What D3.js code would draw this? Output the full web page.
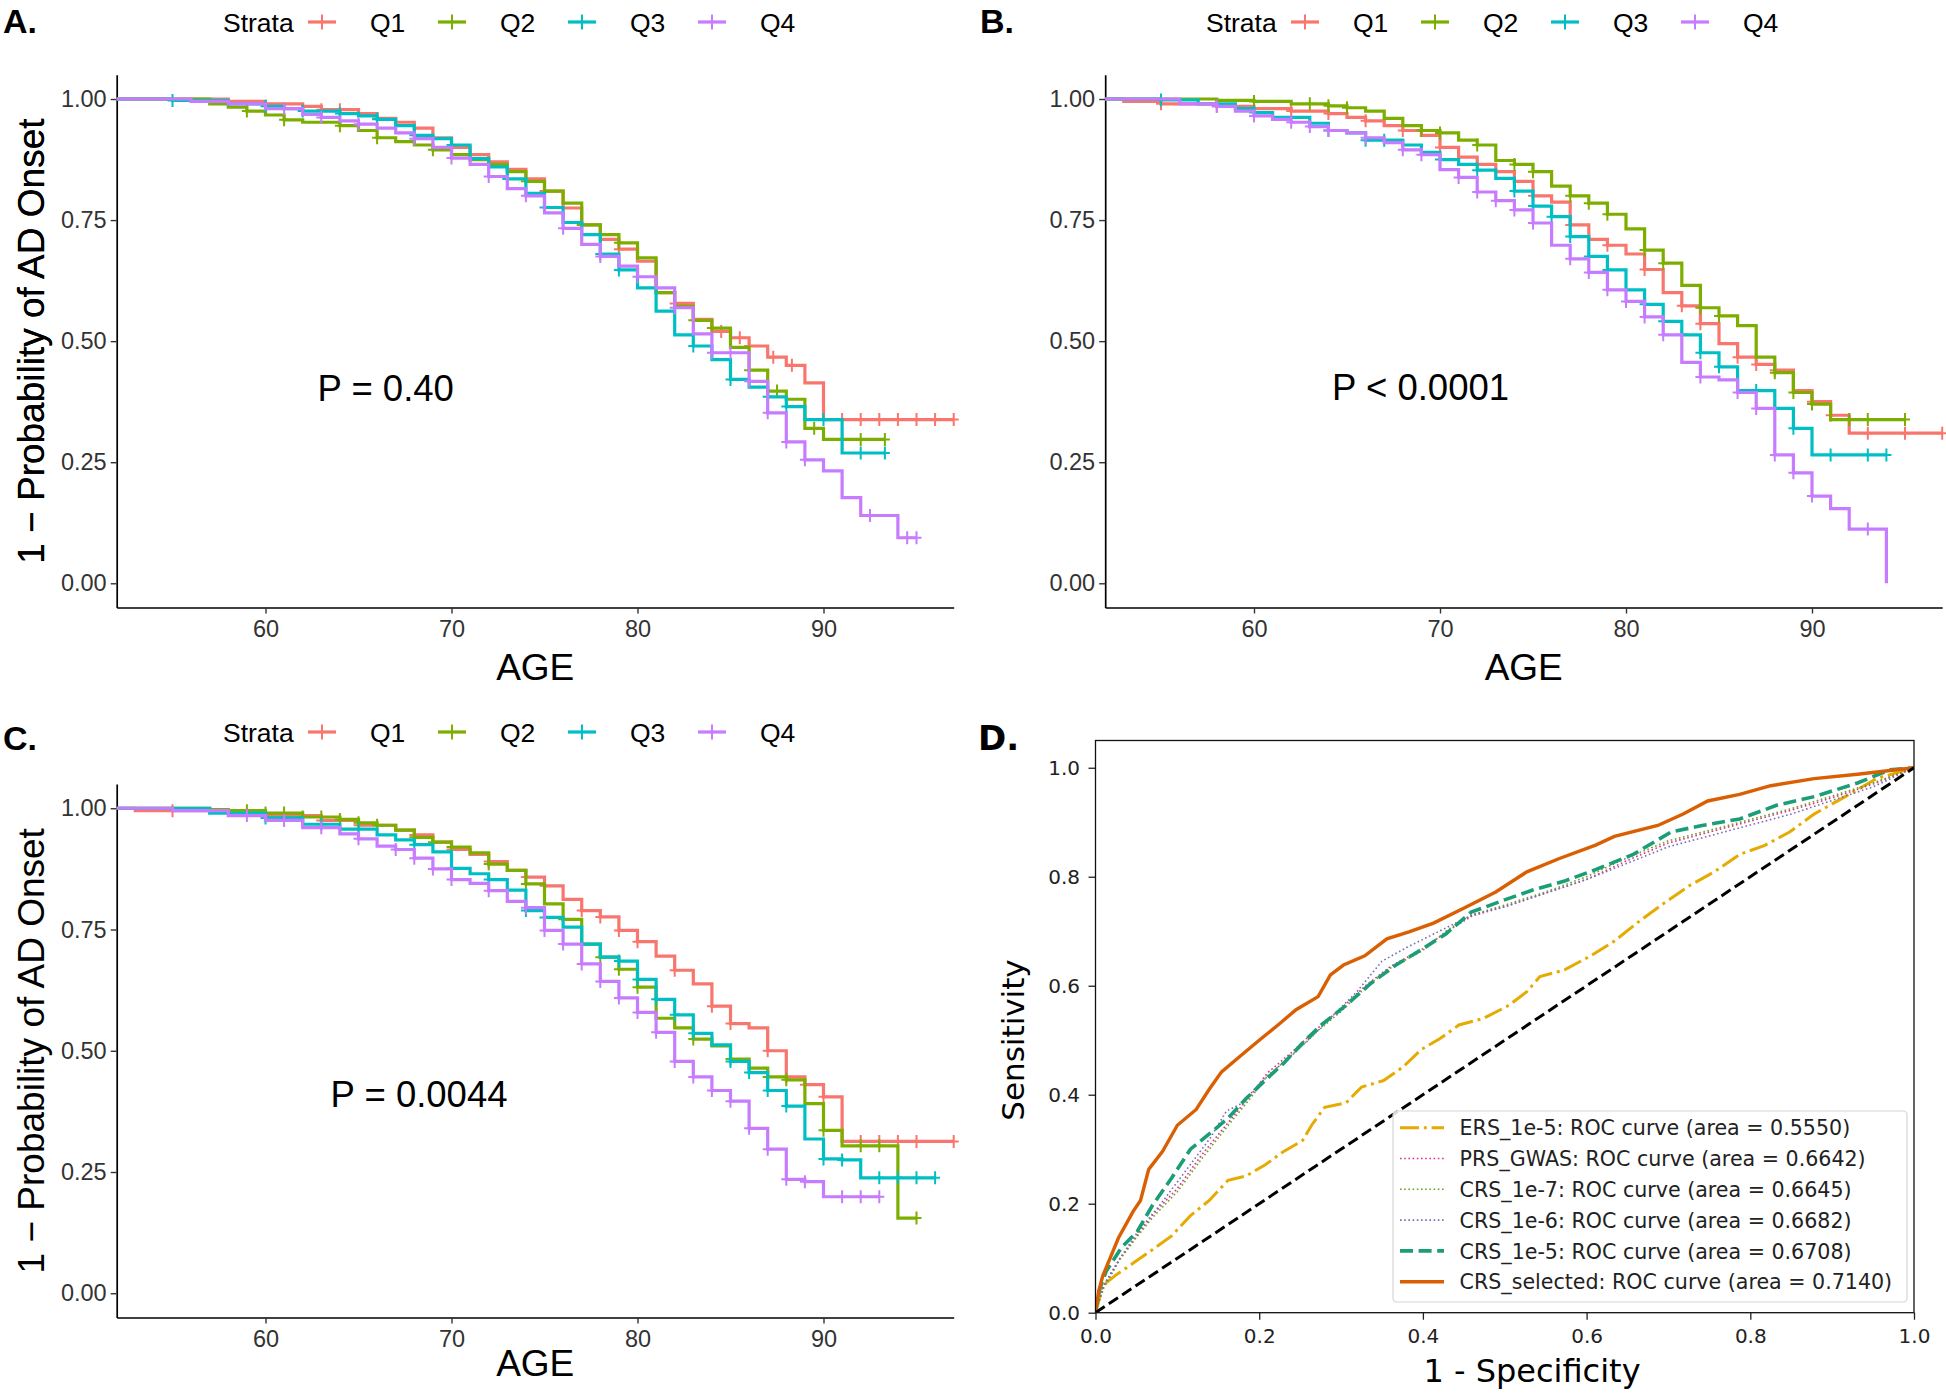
<!DOCTYPE html>
<html>
<head>
<meta charset="utf-8">
<script src="https://cdn.jsdelivr.net/npm/d3@7/dist/d3.min.js"></script>
<style>
  body { margin: 0; background: #fff; }
  text { font-family: "Liberation Sans", Arial, sans-serif; }
  .mpl text { font-family: "DejaVu Sans", sans-serif; }
</style>
</head>
<body>
<svg id="fig" width="1946" height="1395"></svg>
<script>
// ---------------- data ----------------
const strata = ["Q1", "Q2", "Q3", "Q4"];
const strataColors = ["#F8766D", "#7CAE00", "#00BFC4", "#C77CFF"];
const ageTicks = [60, 70, 80, 90];
const survTicks = [0, 0.25, 0.5, 0.75, 1];

// Panel A  [age, survival]
const kmA_Q1 = [[52,1],[58,0.995],[60,0.99],[62,0.985],[63,0.978],[65,0.97],[66,0.96],[67,0.952],[68,0.94],[69,0.92],[70,0.9],[71,0.885],[72,0.87],[73,0.855],[74,0.835],[75,0.81],[76,0.775],[77,0.74],[78,0.71],[79,0.69],[80,0.665],[81,0.6],[82,0.578],[83,0.545],[84,0.52],[85,0.507],[86,0.49],[87,0.467],[88,0.45],[89,0.414],[90,0.338],[97,0.338]];
const kmA_Q2 = [[52,1],[57,0.99],[58,0.983],[59,0.975],[60,0.967],[61,0.957],[62,0.952],[64,0.945],[65,0.935],[66,0.92],[67,0.912],[68,0.905],[69,0.895],[70,0.885],[71,0.875],[72,0.865],[73,0.85],[74,0.83],[75,0.81],[76,0.785],[77,0.74],[78,0.72],[79,0.703],[80,0.672],[81,0.6],[82,0.572],[83,0.543],[84,0.527],[85,0.487],[86,0.44],[87,0.397],[88,0.38],[89,0.32],[90,0.297],[93.3,0.297]];
const kmA_Q3 = [[52,1],[55,0.997],[58,0.99],[60,0.985],[61,0.98],[62,0.975],[64,0.97],[65,0.965],[66,0.958],[67,0.945],[68,0.925],[69,0.918],[70,0.905],[71,0.877],[72,0.86],[73,0.835],[74,0.805],[75,0.776],[76,0.745],[77,0.72],[78,0.68],[79,0.647],[80,0.61],[81,0.562],[82,0.513],[83,0.49],[84,0.462],[85,0.421],[86,0.405],[87,0.385],[88,0.365],[89,0.338],[91,0.269],[93.3,0.269]];
const kmA_Q4 = [[52,1],[56,0.995],[58,0.99],[60,0.98],[62,0.968],[63,0.962],[64,0.955],[65,0.948],[66,0.94],[67,0.93],[68,0.918],[69,0.9],[70,0.878],[71,0.865],[72,0.84],[73,0.815],[74,0.8],[75,0.765],[76,0.733],[77,0.7],[78,0.675],[79,0.655],[80,0.633],[81,0.61],[82,0.569],[83,0.515],[84,0.476],[86,0.417],[87,0.352],[88,0.292],[89,0.255],[90,0.232],[91,0.177],[92,0.14],[94,0.094],[95,0.094]];
const cenA_Q1 = [63,64,66,70,75,79,82,84.5,85.5,86,87.3,88.3,91,92,93,94,95,96,97];
const cenA_Q2 = [59,61,64,66,69,72,74,77,79,83,84,86,87.5,89.5,91,92,93.3];
const cenA_Q3 = [55,60,62,64,66,68,70,73,75,78,79,83,85,87,88,90,92,93.3];
const cenA_Q4 = [61,63,65,68,70,72,74,76,78,80,82,84,85,86,87,88,89,92.5,94.5,95];

// Panel B
const kmB_Q1 = [[52,1],[53,0.995],[55,0.99],[58,0.985],[60,0.98],[62,0.975],[64,0.97],[65,0.962],[66,0.955],[67,0.945],[68,0.935],[69,0.925],[70,0.9],[71,0.88],[72,0.865],[73,0.85],[74,0.83],[75,0.8],[76,0.787],[77,0.74],[78,0.71],[79,0.698],[80,0.68],[81,0.648],[82,0.6],[83,0.573],[84,0.536],[85,0.495],[86,0.467],[87,0.452],[88,0.44],[89,0.398],[90,0.375],[91,0.347],[92,0.31],[97,0.31]];
const kmB_Q2 = [[52,1],[58,0.997],[60,0.995],[62,0.99],[64,0.986],[65,0.982],[66,0.975],[67,0.96],[68,0.945],[69,0.935],[70,0.93],[71,0.915],[72,0.905],[73,0.873],[74,0.865],[75,0.85],[76,0.82],[77,0.8],[78,0.785],[79,0.762],[80,0.732],[81,0.688],[82,0.661],[83,0.615],[84,0.569],[85,0.552],[86,0.532],[87,0.467],[88,0.435],[89,0.394],[90,0.37],[91,0.338],[95,0.338]];
const kmB_Q3 = [[52,1],[55,0.998],[57,0.99],[59,0.98],[60,0.972],[61,0.962],[63,0.95],[64,0.935],[65,0.93],[66,0.915],[68,0.905],[69,0.89],[70,0.875],[71,0.865],[72,0.853],[73,0.836],[74,0.81],[75,0.779],[76,0.757],[77,0.716],[78,0.675],[79,0.647],[80,0.606],[81,0.576],[82,0.541],[83,0.513],[84,0.476],[85,0.447],[86,0.398],[88,0.361],[89,0.32],[90,0.265],[94,0.265]];
const kmB_Q4 = [[52,1],[56,0.99],[58,0.985],[59,0.975],[60,0.965],[61,0.958],[62,0.952],[63,0.943],[64,0.935],[65,0.93],[66,0.92],[67,0.91],[68,0.895],[69,0.885],[70,0.854],[71,0.838],[72,0.808],[73,0.79],[74,0.771],[75,0.744],[76,0.698],[77,0.67],[78,0.642],[79,0.606],[80,0.582],[81,0.55],[82,0.513],[83,0.456],[84,0.426],[85,0.42],[86,0.394],[87,0.361],[88,0.265],[89,0.228],[90,0.18],[91,0.154],[92,0.112],[94,0.112],[94,0]];
const cenB_Q1 = [55,58,62,64,66,68,70,72,75,77,79,81,83,84,86,87,88,90,91,93,95,97];
const cenB_Q2 = [60,63,64,65,69,70,72,74,75,77,78,79,81,82,84,85,88,89,90,92,93,95];
const cenB_Q3 = [55,60,64,66,67,70,72,74,75,76,77,78,79,81,82,83,84,85,87,88,89,91,93,94];
const cenB_Q4 = [58,60,62,63,64,66,68,69,71,72,73,74,75,77,78,79,80,81,82,84,86,87,88,89,90,93];

// Panel C
const kmC_Q1 = [[52,1],[53,0.995],[58,0.99],[60,0.985],[63,0.975],[65,0.965],[67,0.955],[68,0.945],[69,0.93],[70,0.915],[71,0.905],[72,0.89],[73,0.872],[74,0.858],[75,0.84],[76,0.812],[77,0.789],[78,0.776],[79,0.748],[80,0.725],[81,0.695],[82,0.666],[83,0.638],[84,0.592],[85,0.556],[86,0.547],[87,0.5],[88,0.446],[89,0.43],[90,0.405],[91,0.313],[97,0.313]];
const kmC_Q2 = [[52,1],[57,0.997],[58,0.995],[60,0.99],[62,0.982],[64,0.977],[65,0.97],[66,0.965],[67,0.955],[68,0.94],[69,0.93],[70,0.92],[71,0.908],[72,0.885],[73,0.872],[74,0.844],[75,0.803],[76,0.771],[77,0.72],[78,0.693],[79,0.668],[80,0.631],[81,0.567],[82,0.547],[83,0.524],[84,0.51],[85,0.483],[86,0.464],[87,0.446],[88,0.44],[89,0.391],[90,0.336],[91,0.304],[94,0.304],[94,0.155],[95,0.155]];
const kmC_Q3 = [[52,1],[57,0.99],[60,0.98],[62,0.967],[64,0.957],[66,0.945],[67,0.935],[68,0.925],[69,0.91],[70,0.876],[71,0.865],[72,0.853],[73,0.831],[74,0.789],[75,0.775],[76,0.755],[77,0.72],[78,0.693],[79,0.685],[80,0.647],[81,0.606],[82,0.574],[83,0.536],[84,0.512],[85,0.478],[86,0.455],[87,0.418],[88,0.386],[89,0.318],[90,0.277],[91,0.275],[92,0.238],[96,0.238]];
const kmC_Q4 = [[52,1],[55,0.995],[58,0.985],[60,0.975],[62,0.96],[64,0.947],[65,0.937],[66,0.922],[67,0.915],[68,0.897],[69,0.875],[70,0.853],[71,0.845],[72,0.83],[73,0.808],[74,0.795],[75,0.748],[76,0.72],[77,0.679],[78,0.643],[79,0.609],[80,0.579],[81,0.538],[82,0.478],[83,0.446],[84,0.418],[85,0.396],[86,0.34],[87,0.297],[88,0.235],[89,0.23],[90,0.199],[93,0.199]];
const cenC_Q1 = [55,60,63,65,68,70,72,74,75,77,78,79,80,82,84,85,87,88,89,90,92,93,94,95,97];
const cenC_Q2 = [59,60,61,62,63,64,65,66,68,69,70,72,74,76,78,79,80,83,85,87,88,90,92,93,95];
const cenC_Q3 = [60,63,65,68,70,72,74,75,77,79,80,81,82,83,85,86,87,88,90,91,93,94,95,96];
const cenC_Q4 = [59,61,63,65,67,68,69,70,72,74,75,76,77,78,79,80,81,82,83,84,85,86,87,88,89,91,92,93];

// Panel D ROC  [1 - specificity, sensitivity]
const rocERS = [[0,0],[0.009,0.05],[0.024,0.068],[0.047,0.092],[0.07,0.116],[0.093,0.141],[0.116,0.178],[0.139,0.206],[0.162,0.243],[0.184,0.251],[0.207,0.271],[0.23,0.296],[0.253,0.316],[0.264,0.344],[0.28,0.377],[0.306,0.385],[0.325,0.414],[0.352,0.426],[0.375,0.45],[0.398,0.483],[0.421,0.503],[0.444,0.528],[0.474,0.54],[0.505,0.564],[0.527,0.589],[0.543,0.617],[0.573,0.629],[0.604,0.654],[0.634,0.682],[0.665,0.719],[0.695,0.752],[0.726,0.784],[0.756,0.809],[0.787,0.841],[0.817,0.857],[0.848,0.882],[0.878,0.915],[0.916,0.947],[0.954,0.98],[1,1]];
const rocPRS = [[0,0],[0.01,0.05],[0.03,0.1],[0.05,0.14],[0.07,0.18],[0.1,0.228],[0.13,0.29],[0.16,0.345],[0.19,0.4],[0.21,0.44],[0.24,0.478],[0.27,0.52],[0.3,0.558],[0.33,0.6],[0.36,0.635],[0.4,0.668],[0.43,0.7],[0.46,0.728],[0.5,0.745],[0.55,0.77],[0.6,0.795],[0.65,0.83],[0.7,0.862],[0.75,0.882],[0.8,0.902],[0.85,0.922],[0.9,0.945],[0.95,0.97],[1,1]];
const rocCRS7 = [[0,0],[0.01,0.045],[0.03,0.098],[0.05,0.138],[0.07,0.175],[0.1,0.222],[0.13,0.283],[0.16,0.34],[0.19,0.395],[0.21,0.435],[0.24,0.472],[0.27,0.515],[0.3,0.553],[0.33,0.597],[0.36,0.632],[0.4,0.665],[0.43,0.702],[0.46,0.73],[0.5,0.748],[0.55,0.772],[0.6,0.8],[0.65,0.835],[0.7,0.866],[0.75,0.885],[0.8,0.905],[0.85,0.925],[0.9,0.948],[0.95,0.972],[1,1]];
const rocCRS6 = [[0,0],[0.01,0.05],[0.03,0.1],[0.05,0.145],[0.08,0.2],[0.11,0.26],[0.14,0.32],[0.16,0.37],[0.18,0.385],[0.2,0.42],[0.23,0.46],[0.26,0.5],[0.29,0.545],[0.32,0.59],[0.35,0.645],[0.38,0.67],[0.42,0.7],[0.46,0.73],[0.5,0.745],[0.55,0.77],[0.6,0.795],[0.65,0.825],[0.7,0.855],[0.75,0.875],[0.8,0.895],[0.85,0.915],[0.9,0.94],[0.95,0.965],[1,1]];
const rocCRS5 = [[0,0],[0.005,0.043],[0.013,0.076],[0.032,0.12],[0.051,0.149],[0.07,0.198],[0.093,0.247],[0.116,0.3],[0.139,0.328],[0.162,0.357],[0.184,0.393],[0.207,0.426],[0.23,0.458],[0.253,0.495],[0.276,0.528],[0.306,0.564],[0.337,0.605],[0.367,0.638],[0.398,0.666],[0.428,0.695],[0.459,0.735],[0.497,0.756],[0.535,0.776],[0.573,0.792],[0.611,0.813],[0.657,0.841],[0.703,0.882],[0.741,0.894],[0.787,0.906],[0.832,0.931],[0.878,0.947],[0.931,0.972],[0.97,0.996],[1,1]];
const rocSelected = [[0,0],[0.004,0.04],[0.009,0.068],[0.028,0.137],[0.046,0.186],[0.055,0.206],[0.065,0.263],[0.082,0.296],[0.1,0.344],[0.123,0.373],[0.139,0.41],[0.154,0.442],[0.177,0.471],[0.2,0.5],[0.223,0.528],[0.245,0.556],[0.272,0.58],[0.287,0.62],[0.303,0.638],[0.329,0.655],[0.356,0.686],[0.383,0.699],[0.413,0.715],[0.451,0.743],[0.489,0.772],[0.527,0.809],[0.566,0.833],[0.611,0.858],[0.634,0.874],[0.687,0.894],[0.718,0.915],[0.748,0.939],[0.787,0.951],[0.825,0.967],[0.878,0.98],[0.931,0.988],[1,1]];
const rocNames = ["ERS_1e-5", "PRS_GWAS", "CRS_1e-7", "CRS_1e-6", "CRS_1e-5", "CRS_selected"];
const rocAreas = ["0.5550", "0.6642", "0.6645", "0.6682", "0.6708", "0.7140"];
const rocTicks = [0, 0.2, 0.4, 0.6, 0.8, 1.0];

// ---------------- drawing ----------------
const svg = d3.select("#fig");

function survAt(steps, t) {
  let s = steps[0][1];
  for (const [a, v] of steps) { if (a <= t) s = v; else break; }
  return s;
}

function plusPath(cx, cy, h, v) {
  return `M${cx - h},${cy}H${cx + h}M${cx},${cy - v}V${cy + v}`;
}

function drawKM(cfg) {
  const g = svg.append("g");
  const x = d3.scaleLinear().domain([52, 97]).range([cfg.left, cfg.right]);
  const y = d3.scaleLinear().domain([-0.05, 1.05]).range([cfg.bottom, cfg.top]);

  // panel letter
  g.append("text").attr("x", cfg.letterX).attr("y", cfg.letterY)
    .attr("font-size", 34).attr("font-weight", "bold").text(cfg.letter);

  // legend
  const lg = g.append("g").attr("transform", `translate(${cfg.legendX},${cfg.legendY})`);
  lg.append("text").attr("x", 0).attr("y", 0).attr("font-size", 26.5).text("Strata");
  strata.forEach((s, i) => {
    const kx = 85 + i * 130;
    lg.append("path").attr("d", `M${kx},-10H${kx + 28}`)
      .attr("stroke", strataColors[i]).attr("stroke-width", 3.2);
    lg.append("path").attr("d", plusPath(kx + 14, -10, 7, 7.5))
      .attr("stroke", strataColors[i]).attr("stroke-width", 2);
    lg.append("text").attr("x", kx + 62).attr("y", 0).attr("font-size", 26.5).text(s);
  });

  // axes (classic theme)
  const xAxis = g.append("g").attr("transform", `translate(0,${cfg.bottom})`)
    .call(d3.axisBottom(x).tickValues(ageTicks).tickSize(6).tickPadding(7).tickSizeOuter(0));
  const yAxis = g.append("g").attr("transform", `translate(${cfg.left},0)`)
    .call(d3.axisLeft(y).tickValues(survTicks).tickFormat(d3.format(".2f")).tickSize(6).tickPadding(4).tickSizeOuter(0));
  [xAxis, yAxis].forEach(a => {
    a.select(".domain").attr("stroke", "#000").attr("stroke-width", 1.7);
    a.selectAll(".tick line").attr("stroke", "#333").attr("stroke-width", 1.4);
    a.selectAll(".tick text").attr("font-size", 23.5).attr("fill", "#333")
      .attr("font-family", "Liberation Sans, Arial, sans-serif");
  });

  // axis titles
  g.append("text").attr("transform", `translate(44,${(cfg.top + cfg.bottom) / 2}) rotate(-90)`)
    .attr("text-anchor", "middle").attr("font-size", 37).text("1 \u2212 Probability of AD Onset");
  g.append("text").attr("x", (cfg.left + cfg.right) / 2).attr("y", cfg.ageY)
    .attr("text-anchor", "middle").attr("font-size", 37).text("AGE");

  // curves
  const line = d3.line().x(d => x(d[0])).y(d => y(d[1])).curve(d3.curveStepAfter);
  cfg.curves.forEach((c, i) => {
    g.append("path").datum(c).attr("d", line).attr("fill", "none")
      .attr("stroke", strataColors[i]).attr("stroke-width", 3.2);
    g.append("g").selectAll("path").data(cfg.censors[i]).join("path")
      .attr("d", t => plusPath(x(t), y(survAt(c, t)), 5, 6.5))
      .attr("stroke", strataColors[i]).attr("stroke-width", 2);
  });

  // p-value
  g.append("text").attr("x", x(cfg.pAt[0])).attr("y", y(cfg.pAt[1]))
    .attr("font-size", 36.5).text(cfg.pText);
}

drawKM({
  letter: "A.", letterX: 3, letterY: 33, legendX: 223, legendY: 32,
  left: 116.7, right: 953.7, top: 74.8, bottom: 607.5, ageY: 680,
  curves: [kmA_Q1, kmA_Q2, kmA_Q3, kmA_Q4], censors: [cenA_Q1, cenA_Q2, cenA_Q3, cenA_Q4],
  pText: "P = 0.40", pAt: [62.8, 0.376]
});
drawKM({
  letter: "B.", letterX: 980, letterY: 33, legendX: 1206, legendY: 32,
  left: 1105.2, right: 1942.2, top: 74.8, bottom: 607.5, ageY: 680,
  curves: [kmB_Q1, kmB_Q2, kmB_Q3, kmB_Q4], censors: [cenB_Q1, cenB_Q2, cenB_Q3, cenB_Q4],
  pText: "P < 0.0001", pAt: [64.2, 0.378]
});
drawKM({
  letter: "C.", letterX: 3, letterY: 750, legendX: 223, legendY: 742,
  left: 116.7, right: 953.7, top: 784, bottom: 1317.5, ageY: 1376,
  curves: [kmC_Q1, kmC_Q2, kmC_Q3, kmC_Q4], censors: [cenC_Q1, cenC_Q2, cenC_Q3, cenC_Q4],
  pText: "P = 0.0044", pAt: [63.5, 0.385]
});

// ---------------- panel D ----------------
(function drawROC() {
  const g = svg.append("g").attr("class", "mpl");
  const L = 1095.5, R = 1914, T = 740.5, B = 1312.7;
  const x = d3.scaleLinear().domain([0, 1]).range([L, R]);
  const y = d3.scaleLinear().domain([0, 1.05]).range([B, T]);

  g.append("text").attr("x", 978).attr("y", 750).attr("font-size", 34)
    .attr("font-weight", "bold").attr("font-family", "Liberation Sans, Arial, sans-serif").text("D.");

  const xAxis = g.append("g").attr("transform", `translate(0,${B})`)
    .call(d3.axisBottom(x).tickValues(rocTicks).tickFormat(d3.format(".1f")).tickSize(7).tickPadding(9).tickSizeOuter(0));
  const yAxis = g.append("g").attr("transform", `translate(${L},0)`)
    .call(d3.axisLeft(y).tickValues(rocTicks).tickFormat(d3.format(".1f")).tickSize(7).tickPadding(8.5).tickSizeOuter(0));
  [xAxis, yAxis].forEach(a => {
    a.select(".domain").remove();
    a.selectAll(".tick line").attr("stroke", "#222").attr("stroke-width", 1.3);
    a.selectAll(".tick text").attr("font-size", 20).attr("fill", "#222")
      .attr("font-family", "DejaVu Sans, sans-serif");
  });

  g.append("text").attr("transform", `translate(1024,1040) rotate(-90)`)
    .attr("text-anchor", "middle").attr("font-size", 31).text("Sensitivity");
  g.append("text").attr("x", 1532).attr("y", 1381.7)
    .attr("text-anchor", "middle").attr("font-size", 32).text("1 - Specificity");

  const styles = [
    { c: "#E6AB02", w: 3, dash: "19,4.8,3,4.8" },
    { c: "#E7298A", w: 1.6, dash: "1.6,2.6" },
    { c: "#66A61E", w: 1.6, dash: "1.6,2.6" },
    { c: "#7570B3", w: 1.6, dash: "1.6,2.6" },
    { c: "#1B9E77", w: 3.6, dash: "13,5.6" },
    { c: "#D95F02", w: 3.4, dash: null }
  ];
  const curves = [rocERS, rocPRS, rocCRS7, rocCRS6, rocCRS5, rocSelected];
  const line = d3.line().x(d => x(d[0])).y(d => y(d[1]));
  g.append("clipPath").attr("id", "rocClip").append("rect")
    .attr("x", L).attr("y", T).attr("width", R - L).attr("height", B - T);
  const plot = g.append("g").attr("clip-path", "url(#rocClip)");
  curves.forEach((c, i) => {
    plot.append("path").datum(c).attr("d", line).attr("fill", "none")
      .attr("stroke", styles[i].c).attr("stroke-width", styles[i].w)
      .attr("stroke-dasharray", styles[i].dash);
  });
  plot.append("path").datum([[0, 0], [1, 1]]).attr("d", line)
    .attr("stroke", "#000").attr("stroke-width", 3).attr("stroke-dasharray", "11,5");

  g.append("rect").attr("x", L).attr("y", T).attr("width", R - L).attr("height", B - T)
    .attr("fill", "none").attr("stroke", "#111").attr("stroke-width", 1.3);

  // legend
  const lg = g.append("g");
  lg.append("rect").attr("x", 1393).attr("y", 1111).attr("width", 514).attr("height", 191)
    .attr("rx", 4).attr("fill", "#fff").attr("fill-opacity", 0.85)
    .attr("stroke", "#d6d6d6").attr("stroke-width", 1.2);
  rocNames.forEach((n, i) => {
    const yy = 1127.7 + i * 30.8;
    lg.append("path").attr("d", `M1400,${yy}H1444`).attr("fill", "none")
      .attr("stroke", styles[i].c).attr("stroke-width", styles[i].w)
      .attr("stroke-dasharray", styles[i].dash);
    lg.append("text").attr("x", 1459.6).attr("y", yy + 7.6).attr("font-size", 20.6)
      .attr("fill", "#222").text(`${n}: ROC curve (area = ${rocAreas[i]})`);
  });
})();
</script>
</body>
</html>
